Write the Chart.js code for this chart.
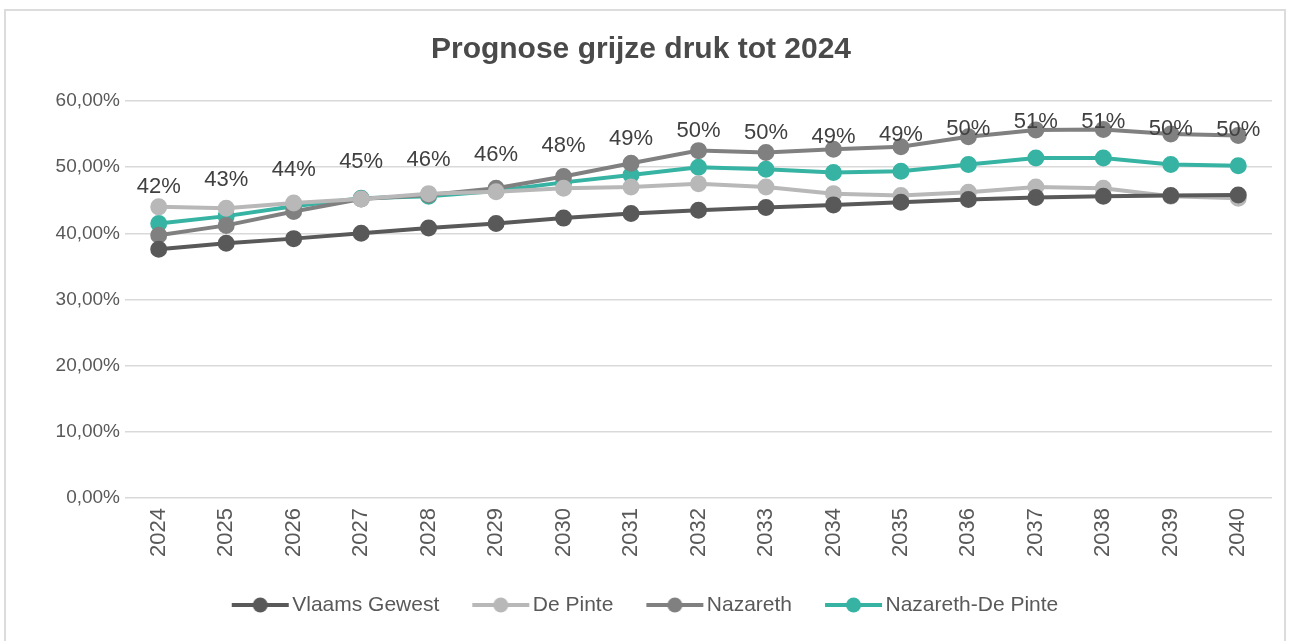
<!DOCTYPE html>
<html>
<head>
<meta charset="utf-8">
<script src="https://cdn.jsdelivr.net/npm/chart.js@4/dist/chart.umd.min.js"></script>
<style>
html,body{margin:0;padding:0;background:#fff;}
#wrap{position:absolute;left:0;top:0;width:1290px;height:641px;}
#frame{position:absolute;left:4px;top:9px;width:1282px;height:640px;border:2px solid #dcdcdc;box-sizing:border-box;pointer-events:none;}
</style>
</head>
<body>
<div id="wrap"><canvas id="c" width="1290" height="641"></canvas></div>
<div id="frame"></div>
<script>
const years = ['2024','2025','2026','2027','2028','2029','2030','2031','2032','2033','2034','2035','2036','2037','2038','2039','2040'];
const vlaamsGewest = [37.6,38.5,39.2,40.0,40.8,41.5,42.3,43.0,43.5,43.9,44.3,44.7,45.1,45.4,45.6,45.7,45.8];
const dePinte = [44.0,43.8,44.6,45.2,46.0,46.3,46.8,47.0,47.5,47.0,46.0,45.7,46.2,47.0,46.8,45.6,45.3];
const nazareth = [39.7,41.2,43.3,45.2,45.8,46.8,48.6,50.6,52.5,52.2,52.7,53.1,54.6,55.6,55.7,55.0,54.8];
const nazarethDePinte = [41.5,42.6,44.1,45.3,45.6,46.4,47.7,48.8,50.0,49.7,49.2,49.4,50.4,51.4,51.4,50.4,50.2];
const yTicks = [0,10,20,30,40,50,60];

const colDark = '#595959', colLight = '#b8b8b8', colMid = '#808080', colTeal = '#36b3a3';
const FONT = "'Liberation Sans', Arial, sans-serif";

function legendIcon(color){
  const cv = document.createElement('canvas');
  cv.width = 78; cv.height = 18;
  const x = cv.getContext('2d');
  x.strokeStyle = color; x.lineWidth = 4;
  x.beginPath(); x.moveTo(18,9); x.lineTo(75,9); x.stroke();
  x.fillStyle = color; x.beginPath(); x.arc(46.5,9,7.5,0,Math.PI*2); x.fill();
  return cv;
}

function ds(label, data, color){
  return {label, data, borderColor: color, backgroundColor: color, borderWidth: 4,
    pointRadius: 6.5, pointHoverRadius: 6.5, pointBackgroundColor: color, pointBorderColor: color,
    tension: 0, icon: legendIcon(color)};
}

const labelPlugin = {
  id: 'tealLabels',
  afterDatasetsDraw(chart){
    const ctx = chart.ctx;
    const meta = chart.getDatasetMeta(3);
    ctx.save();
    ctx.font = "22px " + FONT;
    ctx.fillStyle = '#404040';
    ctx.textAlign = 'center';
    ctx.textBaseline = 'middle';
    meta.data.forEach((pt, i) => {
      ctx.fillText(Math.round(nazarethDePinte[i]) + '%', pt.x, pt.y - 36);
    });
    ctx.restore();
  }
};

new Chart(document.getElementById('c'), {
  type: 'line',
  data: {
    labels: years,
    datasets: [
      ds('Vlaams Gewest', vlaamsGewest, colDark),
      ds('De Pinte', dePinte, colLight),
      ds('Nazareth', nazareth, colMid),
      ds('Nazareth-De Pinte', nazarethDePinte, colTeal)
    ]
  },
  options: {
    responsive: false,
    animation: false,
    layout: {padding: {left: 10, right: 18, top: 18, bottom: 15.5}},
    plugins: {
      title: {display: true, text: 'Prognose grijze druk tot 2024', color: '#4a4a4a',
        font: {family: FONT, size: 30, weight: 'bold'}, padding: {top: 14, bottom: 33}},
      legend: {position: 'bottom',
        labels: {usePointStyle: true, pointStyleWidth: 58, color: '#595959', padding: 25,
          font: {family: FONT, size: 21},
          generateLabels(chart){
            return chart.data.datasets.map((d, i) => ({text: d.label, pointStyle: d.icon,
              fillStyle: d.borderColor, strokeStyle: d.borderColor, lineWidth: 0, hidden: false,
              datasetIndex: i, fontColor: '#595959'}));
          }}},
      tooltip: {enabled: false}
    },
    scales: {
      x: {
        offset: true,
        grid: {display: false},
        border: {display: false},
        ticks: {color: '#595959', font: {family: FONT, size: 22}, minRotation: 90, maxRotation: 90, padding: 2},
        afterFit(s){ s.height = 71.5; }
      },
      y: {
        min: 0, max: 60,
        afterBuildTicks(s){ s.ticks = yTicks.map(v => ({value: v})); },
        grid: {color: '#d9d9d9', lineWidth: 1.5, drawTicks: false},
        border: {display: false},
        ticks: {color: '#595959', font: {family: FONT, size: 19}, padding: 5,
          callback: v => v.toFixed(2).replace('.', ',') + '%'},
        afterFit(s){ s.width = 115; }
      }
    }
  },
  plugins: [labelPlugin]
});
</script>
</body>
</html>
